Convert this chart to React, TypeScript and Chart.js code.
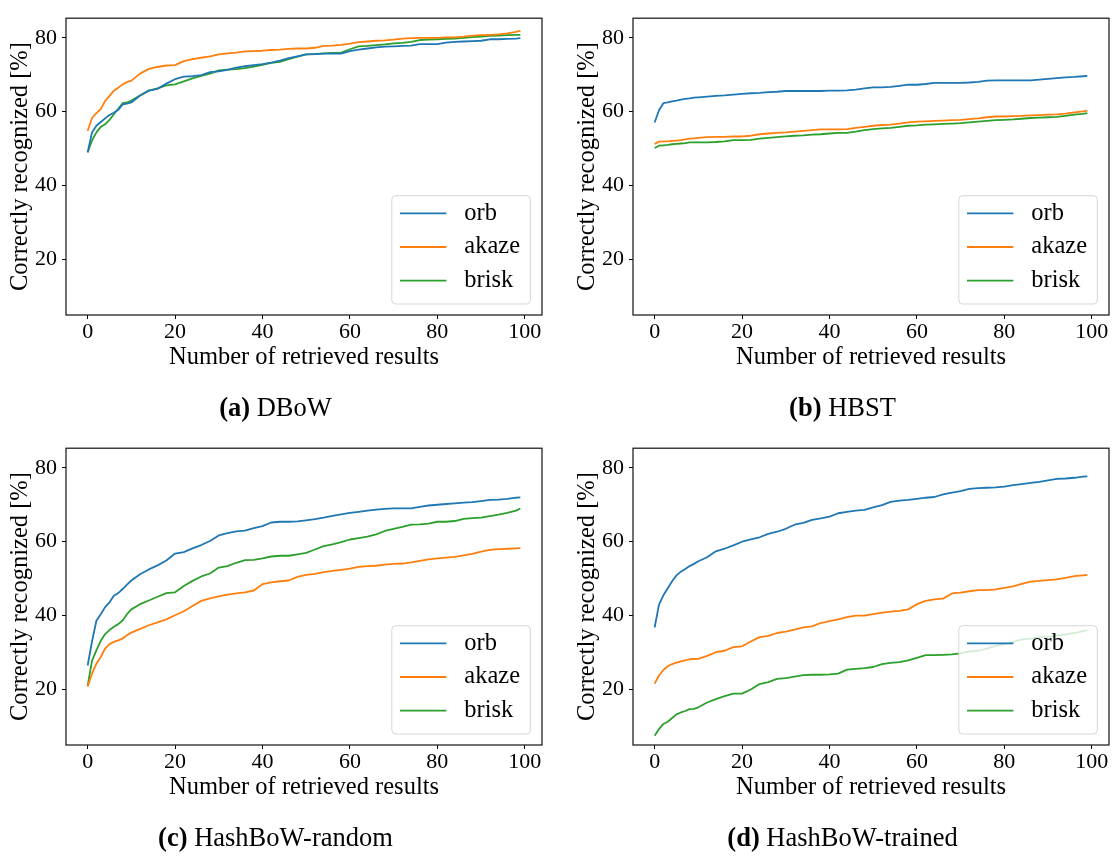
import React, { useEffect, useRef } from "react";
import { Chart, registerables } from "chart.js";

Chart.register(...registerables);

const FONT = "'Liberation Serif', 'Times New Roman', serif";

// x positions (number of retrieved results) at which the curves were read
const retrievedResults = [
  0, 1, 2, 3, 4, 5, 6, 7, 8, 9, 10, 12, 14, 16, 18, 20, 22, 24, 26, 28, 30, 32, 34, 36, 38, 40,
  42, 44, 46, 48, 50, 52, 54, 56, 58, 60, 62, 64, 66, 68, 70, 72, 74, 76, 78, 80, 82, 84, 86, 88,
  90, 92, 94, 96, 98, 99,
];

const seriesNames = ["orb", "akaze", "brisk"];
const seriesColors = ["#1f77b4", "#ff7f0e", "#2ca02c"];
const xTicks = [0, 20, 40, 60, 80, 100];
const yTicks = [20, 40, 60, 80];

// (a) DBoW
const dbowOrb = [
  49.0, 54.4, 56.2, 57.2, 58.2, 59.1, 59.7, 60.5, 62.0, 62.2, 62.5, 64.4, 65.7, 66.2, 67.6, 68.8,
  69.5, 69.6, 69.9, 70.7, 70.9, 71.3, 71.9, 72.3, 72.6, 72.9, 73.3, 73.8, 74.5, 75.0, 75.5, 75.6,
  75.7, 75.7, 75.7, 76.4, 76.8, 77.1, 77.4, 77.6, 77.7, 77.8, 77.9, 78.3, 78.3, 78.3, 78.7, 78.9,
  79.0, 79.1, 79.2, 79.6, 79.6, 79.7, 79.8, 79.9,
];
const dbowAkaze = [
  54.8, 58.3, 59.6, 60.7, 62.9, 64.3, 65.7, 66.5, 67.4, 68.0, 68.4, 70.3, 71.6, 72.1, 72.5, 72.6,
  73.7, 74.2, 74.6, 75.0, 75.5, 75.8, 76.0, 76.3, 76.4, 76.5, 76.7, 76.8, 77.0, 77.1, 77.1, 77.3,
  77.8, 77.9, 78.1, 78.4, 78.8, 79.0, 79.2, 79.3, 79.5, 79.8, 79.9, 80.0, 80.0, 80.0, 80.1, 80.1,
  80.3, 80.6, 80.7, 80.8, 80.9, 81.2, 81.6, 81.9,
];
const dbowBrisk = [
  49.0, 52.2, 54.4, 55.9, 56.6, 57.8, 59.3, 60.8, 62.3, 62.5, 63.0, 64.4, 65.7, 66.3, 67.1, 67.4,
  68.2, 69.0, 69.7, 70.3, 71.2, 71.4, 71.5, 71.8, 72.2, 72.7, 73.2, 73.5, 74.2, 74.9, 75.5, 75.6,
  75.8, 75.9, 76.0, 76.9, 77.7, 77.8, 78.0, 78.2, 78.5, 78.6, 78.9, 79.4, 79.5, 79.6, 79.7, 79.8,
  80.0, 80.2, 80.3, 80.5, 80.6, 80.7, 80.8, 80.8,
];

// (b) HBST
const hbstOrb = [
  57.1, 60.4, 62.3, 62.5, 62.8, 63.0, 63.3, 63.5, 63.6, 63.8, 63.9, 64.1, 64.3, 64.4, 64.6, 64.8,
  65.0, 65.1, 65.3, 65.4, 65.6, 65.6, 65.6, 65.6, 65.6, 65.7, 65.7, 65.8, 66.0, 66.3, 66.6, 66.6,
  66.7, 67.0, 67.3, 67.3, 67.5, 67.8, 67.8, 67.8, 67.8, 67.9, 68.1, 68.4, 68.5, 68.5, 68.5, 68.5,
  68.5, 68.7, 68.9, 69.1, 69.3, 69.4, 69.6, 69.7,
];
const hbstAkaze = [
  51.3, 51.9, 52.0, 52.0, 52.1, 52.2, 52.3, 52.5, 52.7, 52.8, 52.9, 53.1, 53.2, 53.2, 53.3, 53.3,
  53.5, 53.9, 54.1, 54.3, 54.4, 54.6, 54.8, 55.0, 55.2, 55.2, 55.2, 55.3, 55.6, 55.9, 56.2, 56.4,
  56.5, 56.8, 57.1, 57.3, 57.4, 57.5, 57.6, 57.7, 57.8, 58.0, 58.2, 58.5, 58.7, 58.7, 58.8, 58.9,
  59.0, 59.1, 59.2, 59.3, 59.5, 59.8, 60.1, 60.3,
];
const hbstBrisk = [
  50.2, 50.8, 50.9, 51.0, 51.2, 51.3, 51.4, 51.5, 51.7, 51.7, 51.7, 51.7, 51.8, 52.0, 52.3, 52.3,
  52.4, 52.7, 52.9, 53.1, 53.3, 53.5, 53.6, 53.8, 53.9, 54.1, 54.3, 54.3, 54.6, 55.0, 55.3, 55.5,
  55.6, 55.9, 56.2, 56.3, 56.5, 56.6, 56.7, 56.8, 56.9, 57.1, 57.3, 57.5, 57.7, 57.8, 57.9, 58.1,
  58.3, 58.4, 58.5, 58.6, 58.9, 59.2, 59.4, 59.6,
];

// (c) HashBoW-random
const randomOrb = [
  26.5, 33.0, 38.6, 40.4, 42.3, 43.6, 45.4, 46.1, 47.2, 48.4, 49.5, 51.2, 52.5, 53.6, 54.9, 56.8,
  57.2, 58.2, 59.1, 60.2, 61.7, 62.3, 62.8, 63.0, 63.7, 64.2, 65.2, 65.4, 65.4, 65.5, 65.8, 66.1,
  66.5, 67.0, 67.4, 67.8, 68.1, 68.4, 68.7, 68.9, 69.0, 69.0, 69.0, 69.4, 69.8, 70.0, 70.2, 70.4,
  70.6, 70.7, 71.0, 71.3, 71.4, 71.6, 71.9, 72.0,
];
const randomAkaze = [
  20.8, 24.3, 27.0, 28.8, 31.1, 32.3, 32.9, 33.3, 33.8, 34.7, 35.4, 36.4, 37.4, 38.2, 39.0, 40.1,
  41.2, 42.6, 44.0, 44.7, 45.2, 45.7, 46.0, 46.3, 46.8, 48.5, 49.0, 49.3, 49.5, 50.5, 51.0, 51.3,
  51.8, 52.1, 52.4, 52.7, 53.2, 53.4, 53.5, 53.8, 54.0, 54.1, 54.4, 54.8, 55.2, 55.5, 55.7, 55.9,
  56.3, 56.7, 57.3, 57.8, 58.0, 58.1, 58.2, 58.25,
];
const randomBrisk = [
  21.0, 27.8, 30.6, 33.2, 35.0, 36.1, 37.0, 37.7, 38.7, 40.4, 41.7, 43.1, 44.1, 45.1, 46.1, 46.3,
  48.0, 49.4, 50.6, 51.4, 53.0, 53.4, 54.3, 55.0, 55.1, 55.5, 56.0, 56.2, 56.2, 56.6, 57.0, 57.9,
  58.8, 59.3, 59.9, 60.6, 61.0, 61.4, 62.0, 62.9, 63.5, 64.0, 64.6, 64.7, 64.9, 65.4, 65.4, 65.6,
  66.2, 66.4, 66.5, 66.9, 67.3, 67.8, 68.4, 69.0,
];

// (d) HashBoW-trained
const trainedOrb = [
  36.8, 43.0, 45.5, 47.4, 49.3, 50.9, 51.9, 52.6, 53.4, 54.0, 54.7, 55.8, 57.4, 58.1, 59.0, 60.0,
  60.6, 61.2, 62.1, 62.7, 63.5, 64.6, 65.1, 65.9, 66.3, 66.8, 67.7, 68.1, 68.4, 68.6, 69.3, 69.9,
  70.8, 71.1, 71.3, 71.6, 71.9, 72.1, 72.8, 73.3, 73.7, 74.3, 74.5, 74.6, 74.7, 74.9, 75.3, 75.6,
  75.9, 76.2, 76.6, 77.0, 77.1, 77.3, 77.6, 77.7,
];
const trainedAkaze = [
  21.6, 23.8, 25.3, 26.3, 26.9, 27.3, 27.6, 27.9, 28.2, 28.3, 28.3, 29.1, 30.1, 30.5, 31.5, 31.7,
  33.0, 34.2, 34.5, 35.3, 35.7, 36.2, 36.8, 37.1, 38.0, 38.5, 39.0, 39.6, 40.0, 40.0, 40.4, 40.8,
  41.1, 41.3, 41.7, 43.1, 44.0, 44.4, 44.6, 46.0, 46.2, 46.6, 46.9, 46.9, 47.1, 47.5, 47.9, 48.6,
  49.2, 49.4, 49.6, 49.8, 50.2, 50.7, 50.9, 51.0,
];
const trainedBrisk = [
  7.5, 9.3, 10.7, 11.3, 12.3, 13.3, 13.8, 14.2, 14.7, 14.8, 15.2, 16.5, 17.4, 18.2, 18.9, 18.9,
  20.0, 21.5, 22.0, 22.9, 23.1, 23.5, 23.9, 24.0, 24.0, 24.1, 24.3, 25.4, 25.6, 25.8, 26.1, 26.9,
  27.2, 27.4, 27.9, 28.6, 29.3, 29.3, 29.4, 29.5, 29.8, 30.3, 30.5, 31.1, 31.8, 32.3, 32.9, 33.6,
  33.8, 34.1, 34.3, 34.6, 34.9, 35.3, 35.8, 36.1,
];

const framePlugin = {
  id: "axesFrame",
  afterDatasetsDraw(chart: any) {
    const { ctx, chartArea } = chart;
    ctx.save();
    ctx.strokeStyle = "#111";
    ctx.lineWidth = 1.2;
    ctx.strokeRect(chartArea.left, chartArea.top, chartArea.right - chartArea.left, chartArea.bottom - chartArea.top);
    ctx.restore();
  },
};

const insetLegendPlugin = {
  id: "insetLegend",
  afterDatasetsDraw(chart: any) {
    const { ctx, chartArea } = chart;
    const w = 138.6;
    const h = 108.3;
    const x = chartArea.right - 11.6 - w;
    const y = chartArea.bottom - 11 - h;
    const r = 4;
    ctx.save();
    ctx.beginPath();
    ctx.moveTo(x + r, y);
    ctx.lineTo(x + w - r, y);
    ctx.arcTo(x + w, y, x + w, y + r, r);
    ctx.lineTo(x + w, y + h - r);
    ctx.arcTo(x + w, y + h, x + w - r, y + h, r);
    ctx.lineTo(x + r, y + h);
    ctx.arcTo(x, y + h, x, y + h - r, r);
    ctx.lineTo(x, y + r);
    ctx.arcTo(x, y, x + r, y, r);
    ctx.closePath();
    ctx.fillStyle = "rgba(255,255,255,0.8)";
    ctx.fill();
    ctx.strokeStyle = "rgba(204,204,204,0.8)";
    ctx.lineWidth = 1;
    ctx.stroke();
    chart.data.datasets.forEach((ds: any, i: number) => {
      const ly = y + 17.6 + i * 33.7;
      ctx.beginPath();
      ctx.moveTo(x + 8.2, ly);
      ctx.lineTo(x + 54.6, ly);
      ctx.strokeStyle = ds.borderColor;
      ctx.lineWidth = 1.8;
      ctx.stroke();
      ctx.fillStyle = "#000";
      ctx.font = `24.5px ${FONT}`;
      ctx.textBaseline = "middle";
      ctx.textAlign = "left";
      ctx.fillText(ds.label, x + 72.5, ly);
    });
    ctx.restore();
  },
};

type PanelProps = {
  left: number;
  top: number;
  tag: string;
  name: string;
  series: number[][];
};

function Panel({ left, top, tag, name, series }: PanelProps) {
  const ref = useRef<HTMLCanvasElement>(null);
  useEffect(() => {
    const tickGrid = {
      display: true,
      drawOnChartArea: false,
      drawTicks: true,
      tickLength: 4,
      tickColor: "#000",
      tickWidth: 1,
    };
    const chart = new Chart(ref.current as HTMLCanvasElement, {
      type: "line",
      data: {
        datasets: series.map((vals, i) => ({
          label: seriesNames[i],
          data: vals.map((v, j) => ({ x: retrievedResults[j], y: v })),
          borderColor: seriesColors[i],
          backgroundColor: seriesColors[i],
          borderWidth: 1.8,
          borderJoinStyle: "round",
          pointRadius: 0,
          tension: 0,
          fill: false,
        })),
      },
      options: {
        animation: false,
        responsive: false,
        events: [],
        layout: { padding: { left: 0, top: 6, right: 7, bottom: 58 } },
        plugins: { legend: { display: false }, tooltip: { enabled: false } },
        scales: {
          x: {
            type: "linear",
            min: -4.95,
            max: 103.95,
            afterBuildTicks: (s: any) => {
              s.ticks = xTicks.map((v) => ({ value: v }));
            },
            afterFit: (s: any) => {
              s.height = 57;
            },
            grid: tickGrid,
            border: { display: false },
            ticks: {
              padding: 0,
              color: "#000",
              autoSkip: false,
              maxRotation: 0,
              font: { family: FONT, size: 22 },
            },
            title: {
              display: true,
              text: "Number of retrieved results",
              color: "#000",
              font: { family: FONT, size: 24.5 },
              padding: { top: 0, bottom: 0 },
            },
          },
          y: {
            type: "linear",
            min: 5.0,
            max: 85.3,
            afterBuildTicks: (s: any) => {
              s.ticks = yTicks.map((v) => ({ value: v }));
            },
            afterFit: (s: any) => {
              s.width = 66;
            },
            grid: tickGrid,
            border: { display: false },
            ticks: {
              padding: 5,
              color: "#000",
              autoSkip: false,
              font: { family: FONT, size: 22 },
            },
            title: {
              display: true,
              text: "Correctly recognized [%]",
              color: "#000",
              font: { family: FONT, size: 24.5 },
              padding: { top: 6, bottom: 0 },
            },
          },
        },
      },
      plugins: [framePlugin, insetLegendPlugin],
    } as any);
    return () => chart.destroy();
  }, []);

  return (
    <div style={{ position: "absolute", left, top, width: 549, height: 430 }}>
      <canvas ref={ref} width={549} height={430} style={{ width: 549, height: 430, display: "block" }} />
      <div
        style={{
          position: "absolute",
          left: 0,
          width: 551,
          top: 392,
          textAlign: "center",
          fontFamily: FONT,
          fontSize: 26.5,
          lineHeight: "30px",
          color: "#000",
          whiteSpace: "nowrap",
        }}
      >
        <b>{tag}</b> {name}
      </div>
    </div>
  );
}

export default function App() {
  return (
    <div style={{ position: "absolute", left: 0, top: 0, width: 1116, height: 856, background: "#fff" }}>
      <Panel left={0} top={0} tag="(a)" name="DBoW" series={[dbowOrb, dbowAkaze, dbowBrisk]} />
      <Panel left={567} top={0} tag="(b)" name="HBST" series={[hbstOrb, hbstAkaze, hbstBrisk]} />
      <Panel left={0} top={430} tag="(c)" name="HashBoW-random" series={[randomOrb, randomAkaze, randomBrisk]} />
      <Panel left={567} top={430} tag="(d)" name="HashBoW-trained" series={[trainedOrb, trainedAkaze, trainedBrisk]} />
    </div>
  );
}
